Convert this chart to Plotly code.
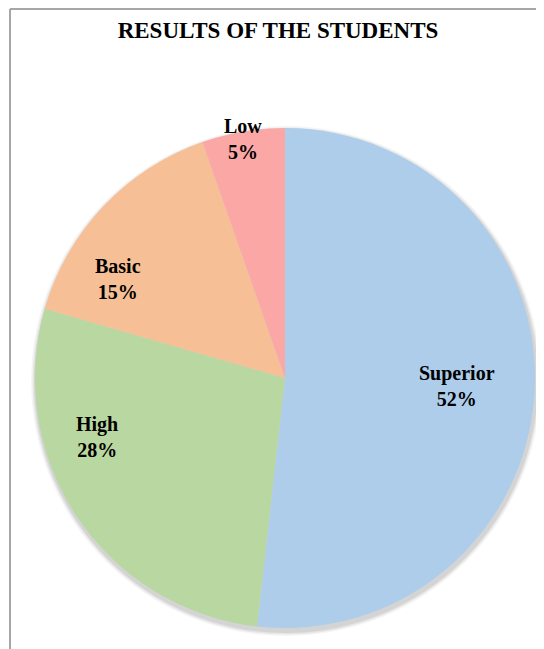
import plotly.graph_objects as go

categories = ["Superior", "High", "Basic", "Low"]
values = [58, 31, 17, 6]          # student counts
colors = ["#ADCDEA", "#B9D7A0", "#F7BF95", "#FAA7A6"]
title_text = "RESULTS OF THE STUDENTS"

W, H = 544, 649
cx, cy, r = 277, 370, 250   # figure pixel coords (page offset of 8px removed)

# label anchor points (figure px) matching the reference's best-fit placement
label_pos = [(449, 378), (89, 429), (110, 271), (235, 131)]

fig = go.Figure()
fig.add_trace(go.Pie(
    labels=categories,
    values=values,
    sort=False,
    direction="clockwise",
    rotation=0,
    marker=dict(colors=colors, line=dict(width=0)),
    textinfo="none",
    domain=dict(x=[(cx - r) / W, (cx + r) / W], y=[(H - cy - r) / H, (H - cy + r) / H]),
    showlegend=False,
    hoverinfo="label+percent",
))

total = sum(values)
annotations = []
for cat, v, (px, py) in zip(categories, values, label_pos):
    annotations.append(dict(
        text=f"<b>{cat}</b><br><b>{round(100 * v / total)}%</b>",
        xref="paper", yref="paper", x=px / W, y=1 - py / H,
        xanchor="center", yanchor="middle", showarrow=False,
        font=dict(family="Liberation Serif", size=20, color="black"),
    ))

shapes = []
# soft shadow behind pie
for i, a in enumerate([0.04, 0.06, 0.08]):
    d = 5 - i * 1.5
    shapes.append(dict(
        type="circle", xref="paper", yref="paper", layer="below",
        x0=(cx - r - d + 1) / W, x1=(cx + r + d + 1) / W,
        y0=(H - cy - r - d - 3) / H, y1=(H - cy + r + d - 3) / H,
        fillcolor=f"rgba(0,0,0,{a})", line=dict(width=0),
    ))
# chart border (left and top)
shapes.append(dict(type="line", xref="paper", yref="paper",
                   x0=2 / W, x1=2 / W, y0=0, y1=1 - 1 / H,
                   line=dict(color="#A6A6A6", width=2)))
shapes.append(dict(type="line", xref="paper", yref="paper",
                   x0=2 / W, x1=1, y0=1 - 1 / H, y1=1 - 1 / H,
                   line=dict(color="#A6A6A6", width=2)))

fig.update_layout(
    width=W, height=H,
    margin=dict(l=0, r=0, t=0, b=0),
    paper_bgcolor="white",
    plot_bgcolor="white",
    title=dict(text="<b>" + title_text + "</b>", x=270 / W, xanchor="center",
               y=1 - 22 / H, yanchor="middle",
               font=dict(family="Liberation Serif", size=23, color="black")),
    shapes=shapes,
    annotations=annotations,
)

fig.write_html("out.html")
